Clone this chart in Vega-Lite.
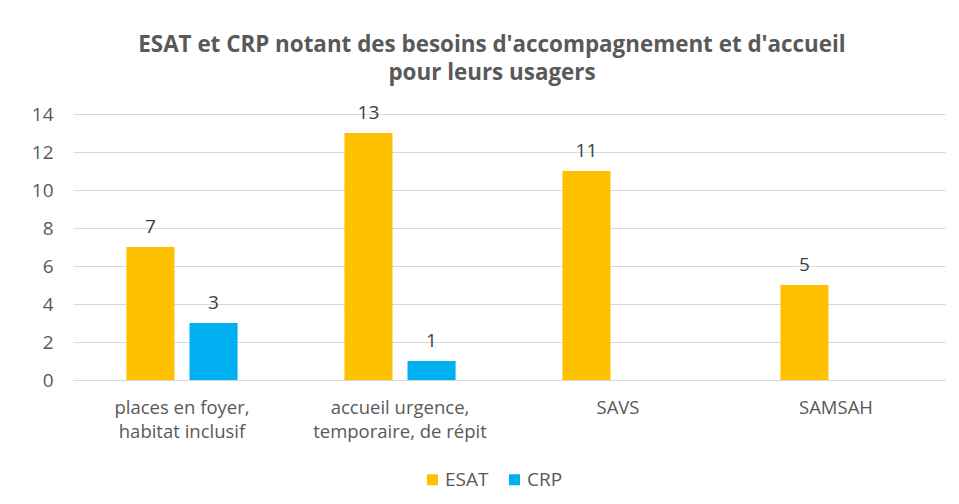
{
  "$schema": "https://vega.github.io/schema/vega-lite/v6.json",
  "width": 872,
  "height": 266,
  "autosize": "none",
  "padding": {"left": 73, "top": 114, "right": 14, "bottom": 124},
  "background": "white",
  "title": {
    "text": ["ESAT et CRP notant des besoins d'accompagnement et d'accueil", "pour leurs usagers"],
    "anchor": "middle",
    "dx": -17,
    "offset": 20,
    "fontSize": 22.4,
    "font": "Open Sans",
    "fontWeight": "bold",
    "color": "#595959",
    "lineHeight": 28
  },
  "data": {
    "values": [
      {"categorie": "places en foyer, habitat inclusif", "type": "ESAT", "nombre": 7},
      {"categorie": "places en foyer, habitat inclusif", "type": "CRP", "nombre": 3},
      {"categorie": "accueil urgence, temporaire, de répit", "type": "ESAT", "nombre": 13},
      {"categorie": "accueil urgence, temporaire, de répit", "type": "CRP", "nombre": 1},
      {"categorie": "SAVS", "type": "ESAT", "nombre": 11},
      {"categorie": "SAMSAH", "type": "ESAT", "nombre": 5}
    ]
  },
  "encoding": {
    "x": {
      "field": "categorie",
      "type": "nominal",
      "sort": null,
      "scale": {"paddingInner": 0.49, "paddingOuter": 0.245},
      "axis": {
        "title": null,
        "labelAngle": 0,
        "labelFont": "Open Sans",
        "labelFontSize": 18.5,
        "labelColor": "#595959",
        "labelPadding": 18,
        "labelLineHeight": 24,
        "labelLimit": 0,
        "labelOverlap": false,
        "ticks": false,
        "domainColor": "#d9d9d9",
        "labelExpr": "indexof(datum.label, ', ') > 0 ? [substring(datum.label, 0, indexof(datum.label, ', ') + 1), substring(datum.label, indexof(datum.label, ', ') + 2)] : datum.label"
      }
    },
    "xOffset": {
      "field": "type",
      "type": "nominal",
      "sort": ["ESAT", "CRP"],
      "scale": {"paddingInner": 0.238, "paddingOuter": 0}
    },
    "y": {
      "field": "nombre",
      "type": "quantitative",
      "scale": {"domain": [0, 14]},
      "axis": {
        "title": null,
        "values": [0, 2, 4, 6, 8, 10, 12, 14],
        "labelFont": "Open Sans",
        "labelFontSize": 19,
        "labelColor": "#595959",
        "labelPadding": 20,
        "ticks": false,
        "domain": false,
        "gridColor": "#d9d9d9",
        "gridWidth": 1
      }
    }
  },
  "layer": [
    {
      "mark": {"type": "bar"},
      "encoding": {
        "color": {
          "field": "type",
          "type": "nominal",
          "sort": ["ESAT", "CRP"],
          "scale": {"domain": ["ESAT", "CRP"], "range": ["#FFC000", "#00B0F0"]},
          "legend": {
            "title": null,
            "orient": "none",
            "direction": "horizontal",
            "legendX": 350,
            "legendY": 356,
            "symbolType": "square",
            "symbolSize": 121,
            "symbolStrokeWidth": 0,
            "labelFont": "Open Sans",
            "labelFontSize": 19,
            "labelColor": "#595959",
            "columnPadding": 16,
            "labelOffset": 3
          }
        }
      }
    },
    {
      "mark": {"type": "text", "baseline": "bottom", "dy": -10, "font": "Open Sans", "fontSize": 19, "color": "#404040"},
      "encoding": {"text": {"field": "nombre", "type": "quantitative"}}
    }
  ],
  "config": {"view": {"stroke": null}}
}
